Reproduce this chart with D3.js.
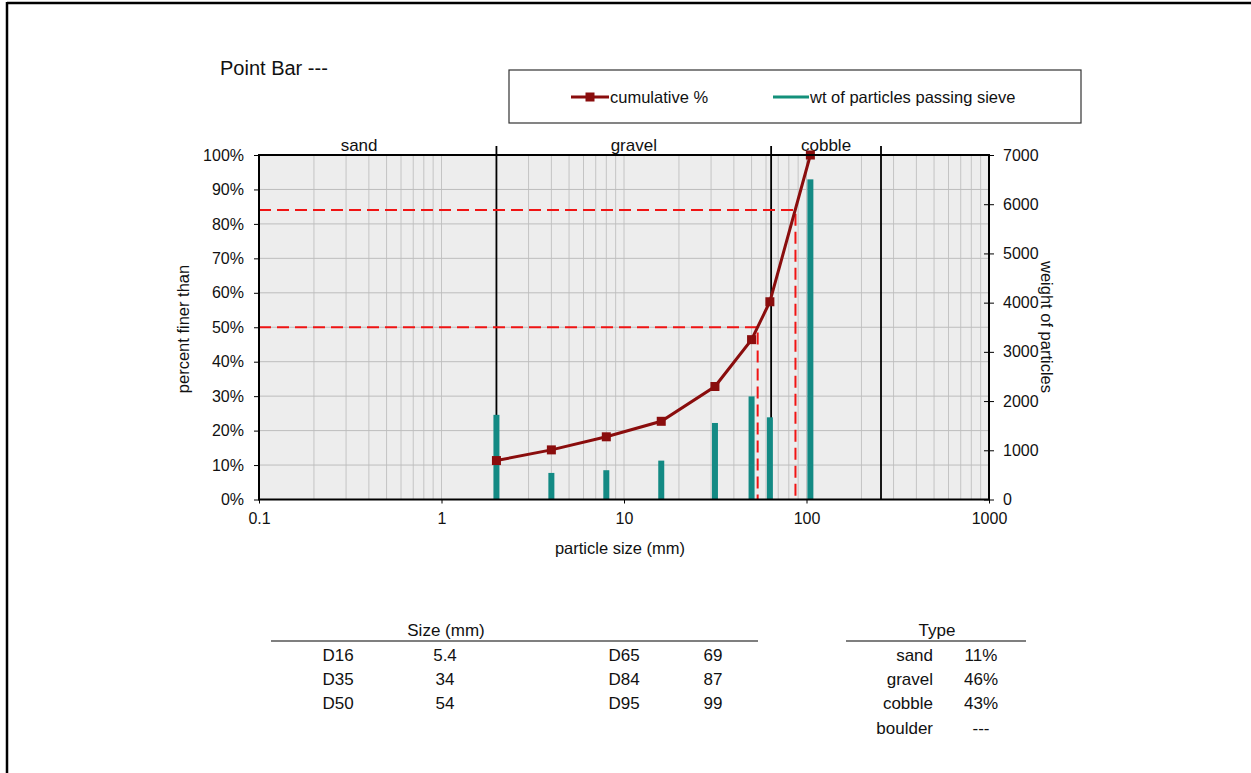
<!DOCTYPE html>
<html>
<head>
<meta charset="utf-8">
<script src="https://cdn.jsdelivr.net/npm/d3@7"></script>
<style>
  body { margin: 0; background: #fff; }
  svg text { font-family: "Liberation Sans", Arial, sans-serif; fill: #111; }
</style>
</head>
<body>
<div id="chart"></div>
<script>
// sieve sizes (mm) and what passes
var sizes = [2, 4, 8, 16, 31.5, 50, 63, 105];
var cumPct = [11.3, 14.4, 18.2, 22.7, 32.8, 46.4, 57.4, 100];
var weights = [1720, 540, 595, 790, 1555, 2095, 1670, 6505];

// size classes (mm)
var classNames = ["sand", "gravel", "cobble"];
var classLo = [0.0625, 2, 64];
var classHi = [2, 64, 256];

// D50 / D84 guide lines
var guidePct = [50, 84];
var guideSize = [54, 87];

var xTicks = [0.1, 1, 10, 100, 1000];
var yTicks = [0, 10, 20, 30, 40, 50, 60, 70, 80, 90, 100];
var y2Ticks = [0, 1000, 2000, 3000, 4000, 5000, 6000, 7000];

// summary tables
var dNames1 = ["D16", "D35", "D50"];
var dVals1 = ["5.4", "34", "54"];
var dNames2 = ["D65", "D84", "D95"];
var dVals2 = ["69", "87", "99"];
var typeNames = ["sand", "gravel", "cobble", "boulder"];
var typeVals = ["11%", "46%", "43%", "---"];

var W = 1251, H = 773;
var svg = d3.select("#chart").append("svg")
    .attr("width", W)
    .attr("height", H);

// page frame (top + left only)
svg.append("line").attr("x1", 7).attr("x2", W).attr("y1", 3).attr("y2", 3)
    .attr("stroke", "#000").attr("stroke-width", 2.5);
svg.append("line").attr("x1", 7).attr("x2", 7).attr("y1", 2).attr("y2", H)
    .attr("stroke", "#000").attr("stroke-width", 2.5);

var pL = 259, pR = 989, pT = 155, pB = 499.5;

var x = d3.scaleLog().domain([0.1, 1000]).range([pL, pR]);
var y = d3.scaleLinear().domain([0, 100]).range([pB, pT]);
var y2 = d3.scaleLinear().domain([0, 7000]).range([pB, pT]);

// plot background
svg.append("rect")
    .attr("x", pL).attr("y", pT)
    .attr("width", pR - pL).attr("height", pB - pT)
    .attr("fill", "#ededed");

// minor vertical grid
var minor = [];
[0.1, 1, 10, 100].forEach(function(dec) {
  for (var k = 1; k <= 9; k++) minor.push(dec * k);
});
svg.append("g").selectAll("line")
    .data(minor)
    .join("line")
    .attr("x1", function(d) { return x(d); })
    .attr("x2", function(d) { return x(d); })
    .attr("y1", pT).attr("y2", pB)
    .attr("stroke", "#c4c4c4").attr("stroke-width", 1);

// horizontal grid
svg.append("g").selectAll("line")
    .data(yTicks)
    .join("line")
    .attr("x1", pL).attr("x2", pR)
    .attr("y1", function(d) { return y(d); })
    .attr("y2", function(d) { return y(d); })
    .attr("stroke", "#bdbdbd").attr("stroke-width", 1);

// class boundaries
var bounds = [2, 64, 256];
svg.append("g").selectAll("line")
    .data(bounds)
    .join("line")
    .attr("x1", function(d) { return x(d); })
    .attr("x2", function(d) { return x(d); })
    .attr("y1", pT - 9).attr("y2", pB)
    .attr("stroke", "#000").attr("stroke-width", 1.8);

svg.append("g").selectAll("text")
    .data(classNames)
    .join("text")
    .attr("x", function(d, i) { return (x(classLo[i]) + x(classHi[i])) / 2; })
    .attr("y", pT - 4)
    .attr("text-anchor", "middle")
    .style("font-size", "17px")
    .text(function(d) { return d; });

// bars: weight of particles
svg.append("g").selectAll("rect")
    .data(weights)
    .join("rect")
    .attr("x", function(d, i) { return x(sizes[i]) - 3; })
    .attr("y", function(d) { return y2(d); })
    .attr("width", 6)
    .attr("height", function(d) { return pB - y2(d); })
    .attr("fill", "#138a84");

// guide lines D50, D84
var guides = svg.append("g");
guidePct.forEach(function(p, i) {
  guides.append("path")
      .attr("d", "M" + pL + "," + y(p) + "H" + x(guideSize[i]) + "V" + pB)
      .attr("fill", "none")
      .attr("stroke", "#f01414")
      .attr("stroke-width", 2)
      .attr("stroke-dasharray", "12,6");
});

// cumulative line
var pts = sizes.map(function(s, i) { return [s, cumPct[i]]; });
var line = d3.line()
    .x(function(d) { return x(d[0]); })
    .y(function(d) { return y(d[1]); });
svg.append("path")
    .datum(pts)
    .attr("d", line)
    .attr("fill", "none")
    .attr("stroke", "#8a0d0d")
    .attr("stroke-width", 3);
svg.append("g").selectAll("rect")
    .data(pts)
    .join("rect")
    .attr("x", function(d) { return x(d[0]) - 4.5; })
    .attr("y", function(d) { return y(d[1]) - 4.5; })
    .attr("width", 9).attr("height", 9)
    .attr("fill", "#8a0d0d");

// plot border
svg.append("rect")
    .attr("x", pL).attr("y", pT)
    .attr("width", pR - pL).attr("height", pB - pT)
    .attr("fill", "none")
    .attr("stroke", "#000").attr("stroke-width", 2);

// axes
var xAxis = svg.append("g")
    .attr("transform", "translate(0," + pB + ")")
    .call(d3.axisBottom(x).tickValues(xTicks).tickSize(4).tickPadding(9)
      .tickFormat(function(d) { return String(d); }));
xAxis.select(".domain").remove();
xAxis.selectAll("text").style("font-size", "16px").attr("fill", "#111");

var yAxis = svg.append("g")
    .attr("transform", "translate(" + pL + ",0)")
    .call(d3.axisLeft(y).tickValues(yTicks).tickSize(5).tickPadding(10)
      .tickFormat(function(d) { return d + "%"; }));
yAxis.select(".domain").remove();
yAxis.selectAll("line").attr("x2", -5);
yAxis.selectAll("text").style("font-size", "16px").attr("fill", "#111");

var y2Axis = svg.append("g")
    .attr("transform", "translate(" + pR + ",0)")
    .call(d3.axisRight(y2).tickValues(y2Ticks).tickSize(5).tickPadding(9)
      .tickFormat(d3.format("d")));
y2Axis.select(".domain").remove();
y2Axis.selectAll("line").attr("x1", -5);
y2Axis.selectAll("text").style("font-size", "16px").attr("fill", "#111");

// axis titles
svg.append("text")
    .attr("transform", "translate(189,329) rotate(-90)")
    .attr("text-anchor", "middle")
    .style("font-size", "16.5px")
    .text("percent finer than");
svg.append("text")
    .attr("x", 620).attr("y", 554)
    .attr("text-anchor", "middle")
    .style("font-size", "16.5px")
    .text("particle size (mm)");
svg.append("text")
    .attr("transform", "translate(1041,327) rotate(90)")
    .attr("text-anchor", "middle")
    .style("font-size", "16.5px")
    .text("weight of particles");

// title
svg.append("text")
    .attr("x", 220).attr("y", 75)
    .style("font-size", "20px")
    .text("Point Bar ---");

// legend
svg.append("rect")
    .attr("x", 509).attr("y", 70)
    .attr("width", 572).attr("height", 53)
    .attr("fill", "#fff")
    .attr("stroke", "#333").attr("stroke-width", 1.2);
svg.append("line").attr("x1", 571).attr("x2", 609).attr("y1", 97).attr("y2", 97)
    .attr("stroke", "#8a0d0d").attr("stroke-width", 3);
svg.append("rect").attr("x", 585.5).attr("y", 92.5).attr("width", 9).attr("height", 9)
    .attr("fill", "#8a0d0d");
svg.append("text").attr("x", 610).attr("y", 103)
    .style("font-size", "16.5px")
    .text("cumulative %");
svg.append("line").attr("x1", 773).attr("x2", 809).attr("y1", 97).attr("y2", 97)
    .attr("stroke", "#13907a").attr("stroke-width", 3);
svg.append("text").attr("x", 810).attr("y", 103)
    .style("font-size", "16.5px")
    .text("wt of particles passing sieve");

// size table
var tbl = svg.append("g").style("font-size", "17px");
tbl.append("text").attr("x", 446).attr("y", 636).attr("text-anchor", "middle")
    .text("Size (mm)");
tbl.append("line").attr("x1", 271).attr("x2", 758).attr("y1", 641).attr("y2", 641)
    .attr("stroke", "#000").attr("stroke-width", 1.2);
var rowY = [661, 685, 709, 734];
function col(data, cx, anchor) {
  tbl.append("g").selectAll("text")
      .data(data)
      .join("text")
      .attr("x", cx)
      .attr("y", function(d, i) { return rowY[i]; })
      .attr("text-anchor", anchor)
      .text(function(d) { return d; });
}
col(dNames1, 338, "middle");
col(dVals1, 445, "middle");
col(dNames2, 624, "middle");
col(dVals2, 713, "middle");

tbl.append("text").attr("x", 937).attr("y", 636).attr("text-anchor", "middle")
    .text("Type");
tbl.append("line").attr("x1", 846).attr("x2", 1026).attr("y1", 641).attr("y2", 641)
    .attr("stroke", "#000").attr("stroke-width", 1.2);
col(typeNames, 933, "end");
col(typeVals, 981, "middle");
</script>
</body>
</html>
